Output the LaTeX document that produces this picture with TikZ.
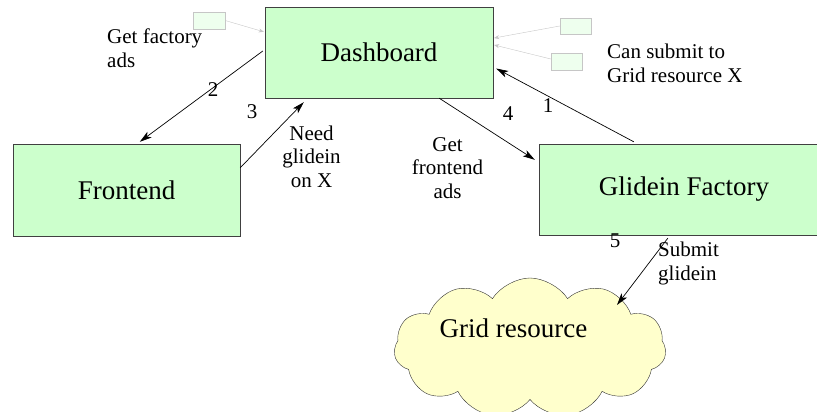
\documentclass[tikz,border=0pt]{standalone}
\usepackage{fontspec}
\setmainfont{Liberation Serif}
\usetikzlibrary{arrows.meta,shapes.symbols}
\definecolor{boxgreen}{HTML}{CCFFCC}
\definecolor{msggreen}{HTML}{EEFFEE}
\definecolor{cloudyellow}{HTML}{FFFFCC}
\tikzset{
  comp/.style={draw=black!75,fill=boxgreen,inner sep=0pt,font=\fontsize{27}{30}\selectfont},
  tag/.style={inner sep=0pt,font=\fontsize{21}{23.3}\selectfont},
  msg/.style={draw=gray!45,fill=msggreen,inner sep=0pt,minimum width=31pt,minimum height=17pt},
  flow/.style={-{Stealth[length=12pt,width=7pt,inset=3pt]},line width=0.7pt},
  feed/.style={draw=gray!45,-{Stealth[length=5pt,width=4pt]}},
}

\begin{document}
\begin{tikzpicture}[x=1pt,y=-1pt]
    \useasboundingbox (0,0) rectangle (817,412);
    \clip (0,0) rectangle (817,412);
    \node[comp,minimum width=228pt,minimum height=91pt] (dash) at (379,52.5) {Dashboard};
    \node[comp,minimum width=227pt,minimum height=92pt] (front) at (126.5,190) {Frontend};
    \node[comp,minimum width=290pt,minimum height=91pt] (factory) at (684,189.5) {Glidein Factory};
    \node[cloud,cloud puffs=11,cloud puff arc=115,cloud ignores aspect,draw=black!80,fill=cloudyellow,
      minimum width=272pt,minimum height=140pt] (grid) at (530,348) {};
    \node[inner sep=0pt,font=\fontsize{27}{30}\selectfont] (gridname) at (513.5,328) {Grid resource};
    \node[msg,minimum width=32pt] (adsa) at (209,20.5) {};
    \node[msg,minimum height=16pt] (adsb) at (575.5,26) {};
    \node[msg] (adsc) at (566.5,61.5) {};
    \draw[feed] (adsa.east) -- ([xshift=-1pt,yshift=-25pt]dash.north west);
    \draw[feed] (adsb.west) -- ([xshift=1pt,yshift=14.5pt]dash.east);
    \draw[feed] ([yshift=2.5pt]adsc.west) -- ([xshift=1pt,yshift=7.5pt]dash.east);
    \draw[flow] ([xshift=95pt,yshift=2pt]factory.north west) -- ([xshift=3pt,yshift=-16pt]dash.east);
    \draw[flow] ([xshift=-2pt,yshift=1.5pt]dash.west) -- ([xshift=127pt,yshift=2pt]front.north west);
    \draw[flow] ([yshift=-24pt]front.north east) -- ([xshift=39pt,yshift=-4pt]dash.south west);
    \draw[flow] ([xshift=-54pt]dash.south east) -- ([xshift=-4pt,yshift=-16pt]factory.north west);
    \draw[flow] ([xshift=129pt,yshift=-3pt]factory.south west) -- ([xshift=87pt,yshift=43pt]grid.center);
    \node[tag,anchor=base] (n1) at (548,112) {1};
    \node[tag,anchor=base] (n2) at (213,96) {2};
    \node[tag,anchor=base] (n3) at (252,118) {3};
    \node[tag,anchor=base] (n4) at (508,121) {4};
    \node[tag,anchor=base] (n5) at (615,247) {5};
    \node[tag,anchor=base west,align=left] (getfac) at (107,67) {Get factory\\ads};
    \node[tag,anchor=base west,align=left] (cansub) at (607,82) {Can submit to\\Grid resource X};
    \node[tag,anchor=base,align=center] (need) at (311.5,187) {Need\\glidein\\on X};
    \node[tag,anchor=base,align=center] (getfront) at (447.5,198) {Get\\frontend\\ads};
    \node[tag,anchor=base west,align=left] (submit) at (658,280) {Submit\\glidein};
\end{tikzpicture}
\end{document}
